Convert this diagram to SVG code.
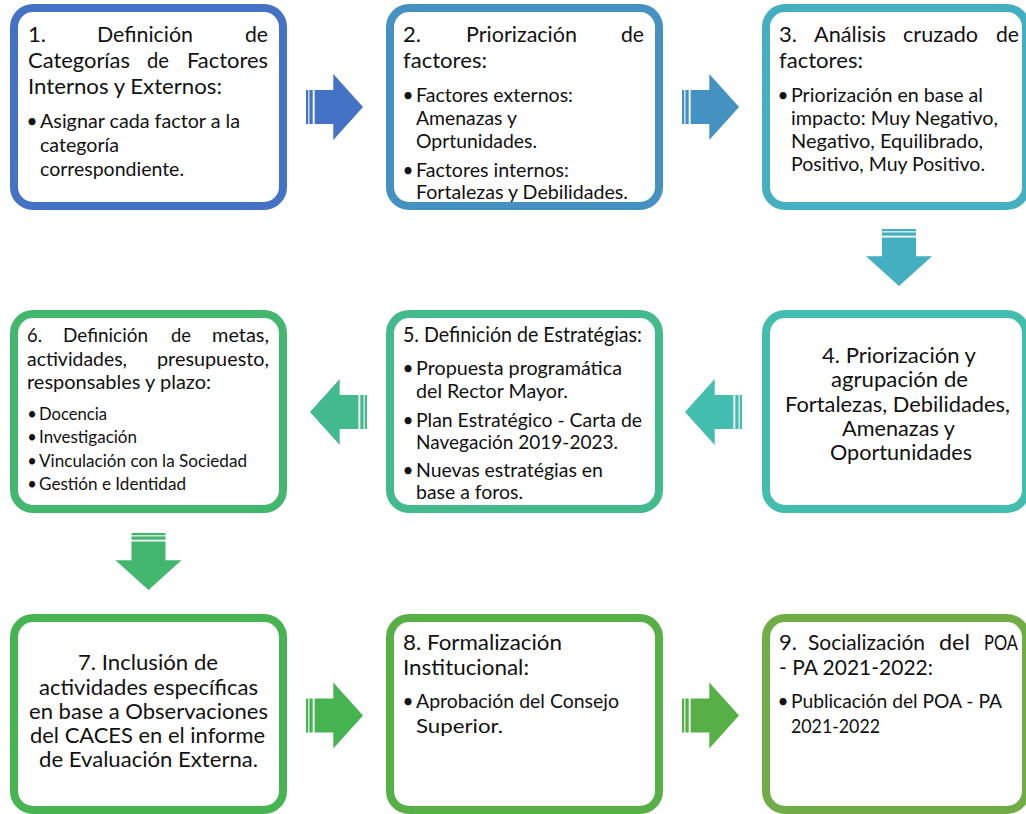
<svg xmlns="http://www.w3.org/2000/svg" xmlns:xlink="http://www.w3.org/1999/xlink" width="1026" height="814" viewBox="0 0 1026 814">
<style>
.box{fill:#fff;stroke-width:8}
text{font-family:Lato,"Liberation Sans",sans-serif;fill:#111;}
.t{font-size:21.5px}
.t7{font-size:21px}
.b{font-size:19px}
.t6{font-size:19.5px}
.b6{font-size:16.5px}
.d{font-size:19px}
</style>
<defs>
<g id="sra">
<rect x="0" y="-17" width="2.3" height="34"/>
<rect x="3.4" y="-17" width="3.3" height="34"/>
<polygon points="8.6,-17 27.3,-17 27.3,-33 57,0 27.3,33 27.3,17 8.6,17"/>
</g>
</defs>
<rect width="1026" height="814" fill="#fff"/>
<g id="connectors">
<use xlink:href="#sra" href="#sra" transform="translate(306,107)" fill="#4472C4"/>
<use xlink:href="#sra" href="#sra" transform="translate(682,107)" fill="#4491C2"/>
<use xlink:href="#sra" href="#sra" transform="translate(899,229) rotate(90)" fill="#43AFC0"/>
<use xlink:href="#sra" href="#sra" transform="translate(742,412) rotate(180)" fill="#43BDAE"/>
<use xlink:href="#sra" href="#sra" transform="translate(367,412) rotate(180)" fill="#43BA8D"/>
<use xlink:href="#sra" href="#sra" transform="translate(148.5,533) rotate(90)" fill="#44B76E"/>
<use xlink:href="#sra" href="#sra" transform="translate(306,715.5)" fill="#45B451"/>
<use xlink:href="#sra" href="#sra" transform="translate(682,715.5)" fill="#56B046"/>
</g>
<g id="node1">
<rect class="box" x="14" y="8" width="269" height="198" rx="19" stroke="#4472C4"/>
<text class="t" x="28" y="42" textLength="18" lengthAdjust="spacingAndGlyphs">1.</text>
<text class="t" x="97" y="42" textLength="96" lengthAdjust="spacingAndGlyphs">Definición</text>
<text class="t" x="245" y="42" textLength="23" lengthAdjust="spacingAndGlyphs">de</text>
<text class="t" x="28" y="68" textLength="102" lengthAdjust="spacingAndGlyphs">Categorías</text>
<text class="t" x="147" y="68" textLength="22" lengthAdjust="spacingAndGlyphs">de</text>
<text class="t" x="187" y="68" textLength="81" lengthAdjust="spacingAndGlyphs">Factores</text>
<text class="t" x="28" y="94" textLength="194" lengthAdjust="spacingAndGlyphs">Internos y Externos:</text>
<text class="d" x="32" y="128" text-anchor="middle">•</text>
<text class="b" x="40" y="128" textLength="200" lengthAdjust="spacingAndGlyphs">Asignar cada factor a la</text>
<text class="b" x="40" y="152" textLength="79" lengthAdjust="spacingAndGlyphs">categoría</text>
<text class="b" x="40" y="176" textLength="144" lengthAdjust="spacingAndGlyphs">correspondiente.</text>
</g>
<g id="node2">
<rect class="box" x="390" y="8" width="269" height="198" rx="19" stroke="#4491C2"/>
<text class="t" x="403" y="42" textLength="18" lengthAdjust="spacingAndGlyphs">2.</text>
<text class="t" x="466" y="42" textLength="111" lengthAdjust="spacingAndGlyphs">Priorización</text>
<text class="t" x="621" y="42" textLength="23" lengthAdjust="spacingAndGlyphs">de</text>
<text class="t" x="403" y="68" textLength="84" lengthAdjust="spacingAndGlyphs">factores:</text>
<text class="d" x="408" y="102" text-anchor="middle">•</text>
<text class="b" x="416" y="102" textLength="157" lengthAdjust="spacingAndGlyphs">Factores externos:</text>
<text class="b" x="416" y="125" textLength="101" lengthAdjust="spacingAndGlyphs">Amenazas y</text>
<text class="b" x="416" y="148" textLength="121" lengthAdjust="spacingAndGlyphs">Oprtunidades.</text>
<text class="d" x="408" y="177" text-anchor="middle">•</text>
<text class="b" x="416" y="177" textLength="153" lengthAdjust="spacingAndGlyphs">Factores internos:</text>
<text class="b" x="416" y="199" textLength="212" lengthAdjust="spacingAndGlyphs">Fortalezas y Debilidades.</text>
</g>
<g id="node3">
<rect class="box" x="766" y="8" width="260" height="198" rx="19" stroke="#43AFC0"/>
<text class="t" x="779" y="42" textLength="18" lengthAdjust="spacingAndGlyphs">3.</text>
<text class="t" x="814" y="42" textLength="72" lengthAdjust="spacingAndGlyphs">Análisis</text>
<text class="t" x="903" y="42" textLength="75" lengthAdjust="spacingAndGlyphs">cruzado</text>
<text class="t" x="996" y="42" textLength="23" lengthAdjust="spacingAndGlyphs">de</text>
<text class="t" x="779" y="68" textLength="84" lengthAdjust="spacingAndGlyphs">factores:</text>
<text class="d" x="783" y="102" text-anchor="middle">•</text>
<text class="b" x="791" y="102" textLength="192" lengthAdjust="spacingAndGlyphs">Priorización en base al</text>
<text class="b" x="791" y="125" textLength="207" lengthAdjust="spacingAndGlyphs">impacto: Muy Negativo,</text>
<text class="b" x="791" y="148" textLength="192" lengthAdjust="spacingAndGlyphs">Negativo, Equilibrado,</text>
<text class="b" x="791" y="171" textLength="194" lengthAdjust="spacingAndGlyphs">Positivo, Muy Positivo.</text>
</g>
<g id="node4">
<rect class="box" x="766" y="314" width="260" height="195" rx="19" stroke="#43BDAE"/>
<text class="t" x="822" y="363" textLength="154" lengthAdjust="spacingAndGlyphs">4. Priorización y</text>
<text class="t" x="831" y="387" textLength="137" lengthAdjust="spacingAndGlyphs">agrupación de</text>
<text class="t" x="785" y="412" textLength="225" lengthAdjust="spacingAndGlyphs">Fortalezas, Debilidades,</text>
<text class="t" x="842" y="436" textLength="113" lengthAdjust="spacingAndGlyphs">Amenazas y</text>
<text class="t" x="830" y="460" textLength="142" lengthAdjust="spacingAndGlyphs">Oportunidades</text>
</g>
<g id="node5">
<rect class="box" x="390" y="314" width="269" height="195" rx="19" stroke="#43BA8D"/>
<text class="t" x="403" y="342" textLength="239" lengthAdjust="spacingAndGlyphs">5. Definición de Estratégias:</text>
<text class="d" x="408" y="375" text-anchor="middle">•</text>
<text class="b" x="416" y="375" textLength="206" lengthAdjust="spacingAndGlyphs">Propuesta programática</text>
<text class="b" x="416" y="398" textLength="152" lengthAdjust="spacingAndGlyphs">del Rector Mayor.</text>
<text class="d" x="408" y="427" text-anchor="middle">•</text>
<text class="b" x="416" y="427" textLength="226" lengthAdjust="spacingAndGlyphs">Plan Estratégico - Carta de</text>
<text class="b" x="416" y="449" textLength="202" lengthAdjust="spacingAndGlyphs">Navegación 2019-2023.</text>
<text class="d" x="408" y="477" text-anchor="middle">•</text>
<text class="b" x="416" y="477" textLength="187" lengthAdjust="spacingAndGlyphs">Nuevas estratégias en</text>
<text class="b" x="416" y="499" textLength="107" lengthAdjust="spacingAndGlyphs">base a foros.</text>
</g>
<g id="node6">
<rect class="box" x="14" y="314" width="269" height="195" rx="19" stroke="#44B76E"/>
<text class="t6" x="27" y="342" textLength="15" lengthAdjust="spacingAndGlyphs">6.</text>
<text class="t6" x="63" y="342" textLength="85" lengthAdjust="spacingAndGlyphs">Definición</text>
<text class="t6" x="171" y="342" textLength="20" lengthAdjust="spacingAndGlyphs">de</text>
<text class="t6" x="212" y="342" textLength="57" lengthAdjust="spacingAndGlyphs">metas,</text>
<text class="t6" x="27" y="366" textLength="100" lengthAdjust="spacingAndGlyphs">actividades,</text>
<text class="t6" x="157" y="366" textLength="112" lengthAdjust="spacingAndGlyphs">presupuesto,</text>
<text class="t6" x="27" y="389" textLength="184" lengthAdjust="spacingAndGlyphs">responsables y plazo:</text>
<text class="b6" x="32" y="420" text-anchor="middle">•</text>
<text class="b6" x="39" y="420" textLength="68" lengthAdjust="spacingAndGlyphs">Docencia</text>
<text class="b6" x="32" y="443" text-anchor="middle">•</text>
<text class="b6" x="39" y="443" textLength="98" lengthAdjust="spacingAndGlyphs">Investigación</text>
<text class="b6" x="32" y="467" text-anchor="middle">•</text>
<text class="b6" x="39" y="467" textLength="208" lengthAdjust="spacingAndGlyphs">Vinculación con la Sociedad</text>
<text class="b6" x="32" y="490" text-anchor="middle">•</text>
<text class="b6" x="39" y="490" textLength="147" lengthAdjust="spacingAndGlyphs">Gestión e Identidad</text>
</g>
<g id="node7">
<rect class="box" x="14" y="618" width="269" height="192" rx="19" stroke="#45B451"/>
<text class="t7" x="78" y="670" textLength="140" lengthAdjust="spacingAndGlyphs">7. Inclusión de</text>
<text class="t7" x="39" y="694.5" textLength="219" lengthAdjust="spacingAndGlyphs">actividades específicas</text>
<text class="t7" x="29" y="718.5" textLength="239" lengthAdjust="spacingAndGlyphs">en base a Observaciones</text>
<text class="t7" x="30" y="743" textLength="235" lengthAdjust="spacingAndGlyphs">del CACES en el informe</text>
<text class="t7" x="39" y="767" textLength="219" lengthAdjust="spacingAndGlyphs">de Evaluación Externa.</text>
</g>
<g id="node8">
<rect class="box" x="390" y="618" width="269" height="192" rx="19" stroke="#56B046"/>
<text class="t" x="403" y="650" textLength="159" lengthAdjust="spacingAndGlyphs">8. Formalización</text>
<text class="t" x="403" y="675" textLength="126" lengthAdjust="spacingAndGlyphs">Institucional:</text>
<text class="d" x="408" y="708" text-anchor="middle">•</text>
<text class="b" x="416" y="708" textLength="203" lengthAdjust="spacingAndGlyphs">Aprobación del Consejo</text>
<text class="b" x="416" y="733" textLength="87" lengthAdjust="spacingAndGlyphs">Superior.</text>
</g>
<g id="node9">
<rect class="box" x="766" y="618" width="260" height="192" rx="19" stroke="#70AD47"/>
<text class="t" x="779" y="650" textLength="18" lengthAdjust="spacingAndGlyphs">9.</text>
<text class="t" x="808" y="650" textLength="117" lengthAdjust="spacingAndGlyphs">Socialización</text>
<text class="t" x="939" y="650" textLength="31" lengthAdjust="spacingAndGlyphs">del</text>
<text class="t" x="984" y="650" textLength="34" lengthAdjust="spacingAndGlyphs">POA</text>
<text class="t" x="779" y="675" textLength="154" lengthAdjust="spacingAndGlyphs">- PA 2021-2022:</text>
<text class="d" x="783" y="708" text-anchor="middle">•</text>
<text class="b" x="791" y="708" textLength="211" lengthAdjust="spacingAndGlyphs">Publicación del POA - PA</text>
<text class="b" x="791" y="733" textLength="89" lengthAdjust="spacingAndGlyphs">2021-2022</text>
</g>
</svg>
